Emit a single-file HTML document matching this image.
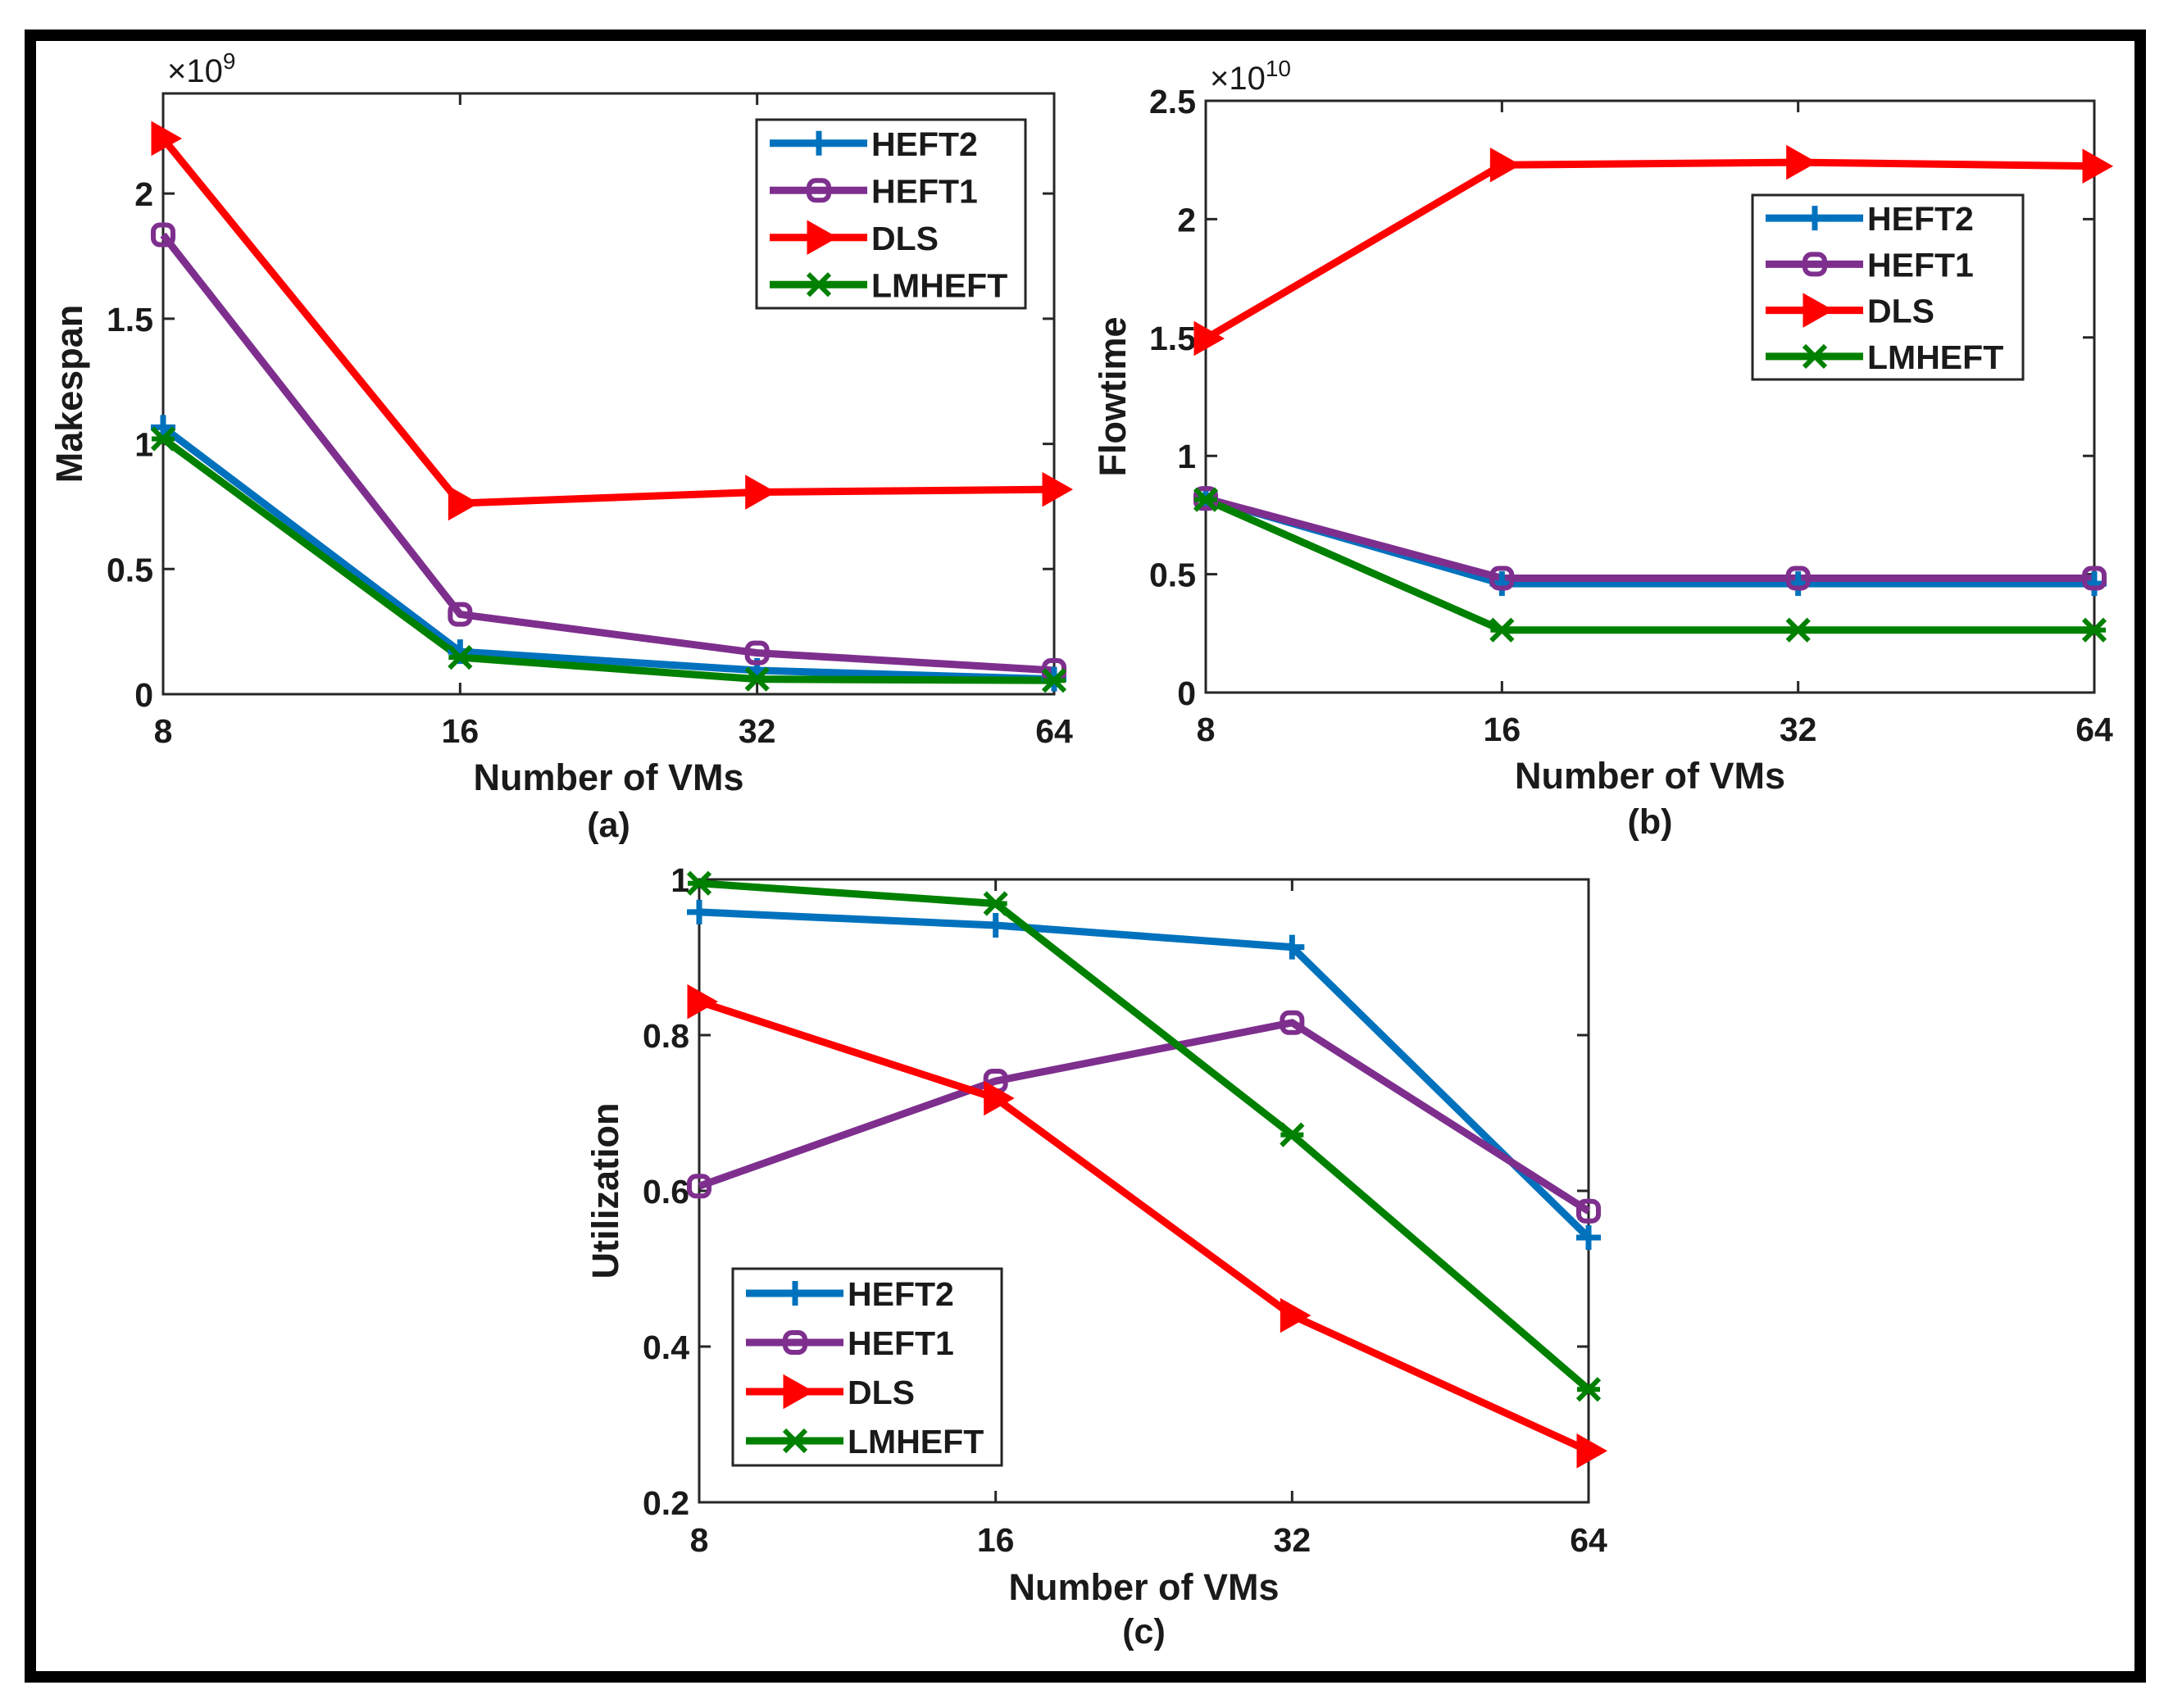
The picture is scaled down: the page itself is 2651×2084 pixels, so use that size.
<!DOCTYPE html>
<html><head><meta charset="utf-8"><style>
html,body{margin:0;padding:0;background:#fff}
svg{display:block}
text{font-family:"Liberation Sans",Arial,sans-serif;font-weight:bold;fill:#1a1a1a}
</style></head><body>
<svg id="fig" width="2651" height="2084" viewBox="0 0 2651 2084" xmlns="http://www.w3.org/2000/svg">
<rect x="0" y="0" width="2651" height="2084" fill="#fff"/>
<rect x="37" y="43" width="2574" height="2003" fill="none" stroke="#000" stroke-width="14"/>
</svg>
<script>
const categories = ["8","16","32","64"];
const seriesNames = ["HEFT2","HEFT1","DLS","LMHEFT"];
const makespanHEFT2 = [1.066,0.17,0.095,0.06];
const makespanHEFT1 = [1.835,0.319,0.165,0.095];
const makespanDLS = [2.22,0.763,0.807,0.818];
const makespanLMHEFT = [1.02,0.147,0.06,0.055];
const makespanTicks = ["0","0.5","1","1.5","2"];
const flowHEFT2 = [0.82,0.46,0.46,0.46];
const flowHEFT1 = [0.82,0.483,0.483,0.483];
const flowDLS = [1.496,2.229,2.24,2.224];
const flowLMHEFT = [0.815,0.264,0.264,0.264];
const flowTicks = ["0","0.5","1","1.5","2","2.5"];
const utilHEFT2 = [0.958,0.941,0.913,0.54];
const utilHEFT1 = [0.606,0.741,0.816,0.574];
const utilDLS = [0.843,0.719,0.44,0.266];
const utilLMHEFT = [0.995,0.969,0.672,0.345];
const utilTicks = ["0.2","0.4","0.6","0.8","1"];

const colors = {HEFT2:"#0072BD",HEFT1:"#7E2F8E",DLS:"#FF0000",LMHEFT:"#008000"};
const NS="http://www.w3.org/2000/svg";
const svg=document.getElementById('fig');
function mk(tag,attrs,parent){const e=document.createElementNS(NS,tag);for(const k in attrs)e.setAttribute(k,attrs[k]);(parent||svg).appendChild(e);return e;}

function marker(g,name,x,y,c){
  const s=15;
  if(name==="HEFT2"){
    const m=mk('path',{d:`M${x-s} ${y}H${x+s}M${x} ${y-s}V${y+s}`,stroke:c,'stroke-width':7,fill:'none'},g);
    
  } else if(name==="HEFT1"){
    const m=mk('rect',{x:x-12,y:y-12,width:24,height:24,rx:8,stroke:c,'stroke-width':6,fill:'none'},g);
    
  } else if(name==="DLS"){
    const m=mk('path',{d:`M${x-12} ${y-17}L${x+18} ${y}L${x-12} ${y+17}Z`,stroke:c,'stroke-width':5,fill:c},g);
    
  } else {
    const m=mk('path',{d:`M${x-13} ${y-13}L${x+13} ${y+13}M${x+13} ${y-13}L${x-13} ${y+13}M${x-14} ${y}H${x+14}`,stroke:c,'stroke-width':6,fill:'none'},g);
    
  }
}

function panel(cfg){
  const g=mk('g',{});
  
  
  const {L,R,T,B,ymin,ymax}=cfg;
  const xs=i=>L+(R-L)*i/(categories.length-1);
  const ys=v=>B-(v-ymin)/(ymax-ymin)*(B-T);
  const ax=mk('rect',{x:L,y:T,width:R-L,height:B-T,fill:'#fff',stroke:'#262626','stroke-width':3},g);
  
  categories.forEach((c,i)=>{
    const x=xs(i);
    mk('path',{d:`M${x} ${B}V${B-14}M${x} ${T}V${T+14}`,stroke:'#262626','stroke-width':3},g);
    const t=mk('text',{x:x,y:cfg.xtickY,'text-anchor':'middle','font-size':41},g);
    t.textContent=c;
    
  });
  cfg.ticks.forEach(s=>{
    const y=ys(parseFloat(s));
    mk('path',{d:`M${L} ${y}H${L+14}M${R} ${y}H${R-14}`,stroke:'#262626','stroke-width':3},g);
    const t=mk('text',{x:L-12,y:y+15,'text-anchor':'end','font-size':41},g);
    t.textContent=s;
    
  });
  if(cfg.exp){
    const t=mk('text',{x:L+5,y:T-14,'font-size':40},g);
    t.style.fontWeight='normal';
    t.innerHTML='×10<tspan dy="-16" font-size="28">'+cfg.exp+'</tspan>';
    
  }
  const xl=mk('text',{x:(L+R)/2,y:cfg.xlabY,'text-anchor':'middle','font-size':45},g);
  xl.textContent='Number of VMs';
  
  const cap=mk('text',{x:(L+R)/2,y:cfg.capY,'text-anchor':'middle','font-size':43},g);
  cap.textContent=cfg.cap;
  
  const yl=mk('text',{x:0,y:0,'text-anchor':'middle','font-size':45,transform:`translate(${cfg.ylabX},${(T+B)/2}) rotate(-90)`},g);
  yl.textContent=cfg.ylab;
  
  seriesNames.forEach((n,si)=>{
    const vals=cfg.data[si];
    const pts=vals.map((v,i)=>xs(i)+','+ys(v)).join(' ');
    const ln=mk('polyline',{points:pts,fill:'none',stroke:colors[n],'stroke-width':9,'stroke-linejoin':'round'},g);
    
  });
  seriesNames.forEach((n,si)=>{
    cfg.data[si].forEach((v,i)=>marker(g,n,xs(i),ys(v),colors[n]));
  });
  const lg=mk('g',{},g);
  
  const [lx,ly,lw,lh]=cfg.leg;
  mk('rect',{x:lx,y:ly,width:lw,height:lh,fill:'#fff',stroke:'#262626','stroke-width':3},lg);
  seriesNames.forEach((n,si)=>{
    const e=mk('g',{},lg);
    
    const cy=ly+lh*(si+0.5)/4;
    mk('path',{d:`M${lx+16} ${cy}H${lx+135}`,stroke:colors[n],'stroke-width':9},e);
    marker(e,n,lx+76,cy,colors[n]);
    const t=mk('text',{x:lx+140,y:cy+15,'font-size':41},e);
    t.textContent=n;
  });
}

panel({id:'panel-a-makespan',L:199,R:1286,T:114,B:847,ymin:0,ymax:2.4,ticks:makespanTicks,exp:'9',
  data:[makespanHEFT2,makespanHEFT1,makespanDLS,makespanLMHEFT],xtickY:906,xlabY:964,capY:1021,ylabX:100,ylab:'Makespan',cap:'(a)',leg:[923,146,328,230]});
panel({id:'panel-b-flowtime',L:1471,R:2555,T:123,B:845,ymin:0,ymax:2.5,ticks:flowTicks,exp:'10',
  data:[flowHEFT2,flowHEFT1,flowDLS,flowLMHEFT],xtickY:904,xlabY:962,capY:1017,ylabX:1373,ylab:'Flowtime',cap:'(b)',leg:[2138,238,330,225]});
panel({id:'panel-c-utilization',L:853,R:1938,T:1073,B:1833,ymin:0.2,ymax:1.0,ticks:utilTicks,exp:null,
  data:[utilHEFT2,utilHEFT1,utilDLS,utilLMHEFT],xtickY:1893,xlabY:1952,capY:2005,ylabX:754,ylab:'Utilization',cap:'(c)',leg:[894,1548,328,240]});
</script>
</body></html>
